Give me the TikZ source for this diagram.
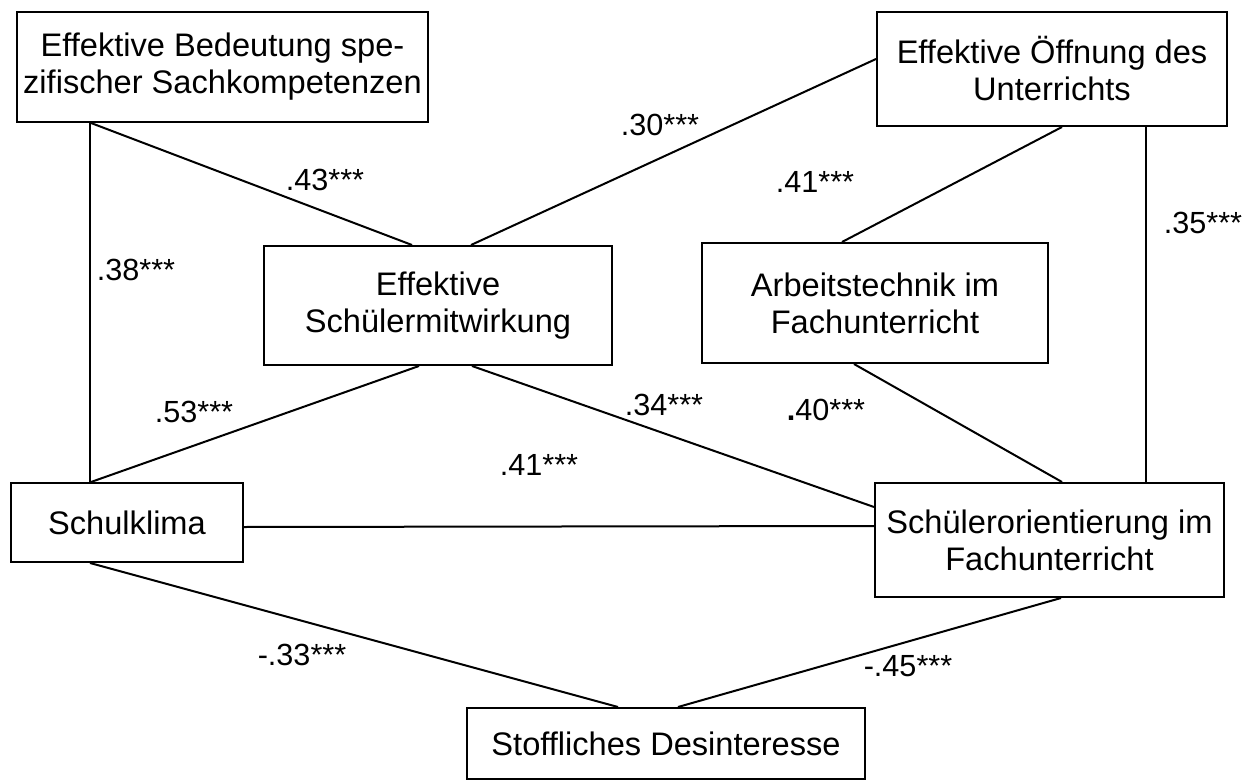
\documentclass[tikz,border=0pt]{standalone}
\usepackage{fontspec}
\setmainfont{Liberation Sans}
\usetikzlibrary{calc}

\begin{document}
\begin{tikzpicture}[x=0.5pt,y=-0.5pt]
    \tikzset{
        box/.style args={#1 by #2}{draw,line width=1pt,inner sep=0pt,minimum width=#1*0.5pt,minimum height=#2*0.5pt,align=center,font=\fontsize{16.3}{18.5}\selectfont},
        coef/.style={inner sep=0pt,font=\fontsize{15.3}{18}\selectfont},
        link/.style={line width=1pt}}
    \useasboundingbox (0,0) rectangle (1253,781);
    % boxes
    \node[box=411 by 110] (ebs) at (222.5,67) {Effektive Bedeutung spe-\\zifischer Sachkompetenzen};
    \node[box=350 by 114] (eoe) at (1052,69) {Effektive Öffnung des\\Unterrichts};
    \node[box=348 by 119] (esm) at (438,305.5) {Effektive\\Schülermitwirkung};
    \node[box=346 by 120] (atf) at (875,303) {Arbeitstechnik im\\Fachunterricht};
    \node[box=232 by 79] (skl) at (127,522.5) {Schulklima};
    \node[box=349 by 114] (sof) at (1049.5,540) {Schülerorientierung im\\Fachunterricht};
    \node[box=398 by 71] (sdi) at (666,743.5) {Stoffliches Desinteresse};
    % connectors
    \draw[link] ($(ebs.south west)+(74,0)$) -- ($(skl.north west)+(80,0)$);
    \draw[link] ($(ebs.south west)+(75,0)$) -- ($(esm.north west)+(149,0)$);
    \draw[link] ($(eoe.north west)+(0,48)$) -- ($(esm.north west)+(208,0)$);
    \draw[link] ($(eoe.south west)+(186,0)$) -- ($(atf.north west)+(141,0)$);
    \draw[link] ($(eoe.south west)+(270,0)$) -- ($(sof.north west)+(272,0)$);
    \draw[link] ($(esm.south west)+(156,0)$) -- ($(skl.north west)+(81,0)$);
    \draw[link] ($(esm.south west)+(209,0)$) -- ($(sof.north west)+(0,25)$);
    \draw[link] ($(atf.south west)+(153,0)$) -- ($(sof.north west)+(188,0)$);
    \draw[link] ($(skl.north east)+(0,45)$) -- ($(sof.north west)+(0,44)$);
    \draw[link] ($(skl.south west)+(80,0)$) -- ($(sdi.north west)+(152,0)$);
    \draw[link] ($(sof.south west)+(187,0)$) -- ($(sdi.north west)+(212,0)$);
    % coefficients
    \node[coef] (r38) at (136,270) {.38***};
    \node[coef] (r43) at (325,180) {.43***};
    \node[coef] (r30) at (660,125) {.30***};
    \node[coef] (r41a) at (815,182) {.41***};
    \node[coef] (r35) at (1203,223) {.35***};
    \node[coef] (r53) at (194,412) {.53***};
    \node[coef] (r34) at (664,405) {.34***};
    \node[coef] (r40) at (826,410) {{\bfseries .}40***};
    \node[coef] (r41b) at (539,465) {.41***};
    \node[coef] (r33) at (302,655) {-.33***};
    \node[coef] (r45) at (908,666) {-.45***};
\end{tikzpicture}
\end{document}
